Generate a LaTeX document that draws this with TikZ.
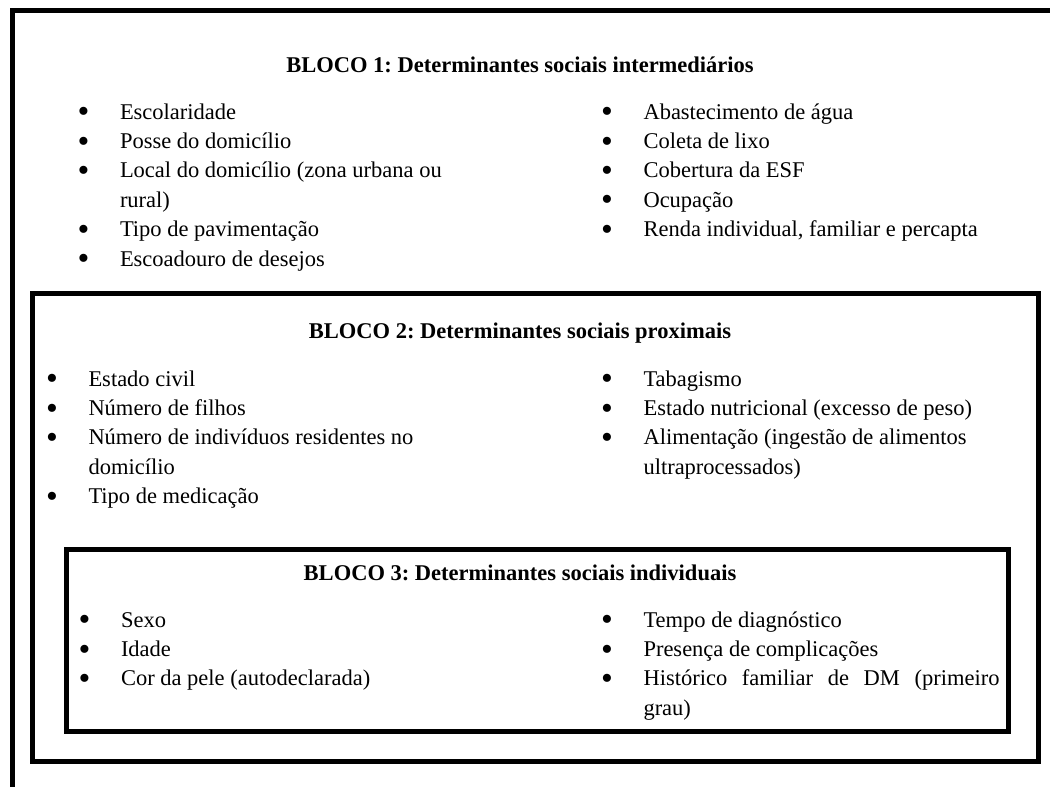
\documentclass[tikz,border=0pt]{standalone}
\usepackage{fontspec}
\usepackage{graphicx}
\setmainfont{Liberation Serif}
\frenchspacing
\newcommand{\bul}{\raisebox{-3.6pt}{\scalebox{1.5}{\textbullet}}}
\newcommand{\blist}[1]{\begin{tabular}[t]{@{}p{42.5pt}@{}l@{}}#1\end{tabular}}
\tikzset{every node/.style={inner sep=0pt, outer sep=0pt,
           font=\fontsize{22.5}{29.4}\selectfont},
         frame/.style={draw, line width=5pt}, % Sets the properties of each block border
         blocktitle/.style={anchor=base, font=\fontsize{22.5}{29.4}\selectfont\bfseries},
         itemlist/.style={anchor=base west, align=left}}

\begin{document}
\begin{tikzpicture}[x=1pt, y=-1pt]
  \useasboundingbox (0,0) rectangle (1050,787);

  % borders of the three blocks
  \draw [frame] (1055,10) -- (12,10) -- (12,792);
  \draw [frame] (32,293) rectangle (1038,761);
  \draw [frame] (66,549) rectangle (1008,731);

  % block 1
  \node [blocktitle] (t1) at (520,72) {BLOCO 1: Determinantes sociais intermediários};
  \node [itemlist] (b1l) at (77.5,119) {\blist{
    \bul & Escolaridade\\
    \bul & Posse do domicílio\\
    \bul & Local do domicílio (zona urbana ou\\
         & rural)\\
    \bul & Tipo de pavimentação\\
    \bul & Escoadouro de desejos}};
  \node [itemlist] (b1r) at (601,119) {\blist{
    \bul & Abastecimento de água\\
    \bul & Coleta de lixo\\
    \bul & Cobertura da ESF\\
    \bul & Ocupação\\
    \bul & Renda individual, familiar e percapta}};

  % block 2
  \node [blocktitle] (t2) at (520,338) {BLOCO 2: Determinantes sociais proximais};
  \node [itemlist] (b2l) at (46,386) {\blist{
    \bul & Estado civil\\
    \bul & Número de filhos\\
    \bul & Número de indivíduos residentes no\\
         & domicílio\\
    \bul & Tipo de medicação}};
  \node [itemlist] (b2r) at (601,386) {\blist{
    \bul & Tabagismo\\
    \bul & Estado nutricional (excesso de peso)\\
    \bul & Alimentação (ingestão de alimentos\\
         & ultraprocessados)}};

  % block 3
  \node [blocktitle] (t3) at (520,580) {BLOCO 3: Determinantes sociais individuais};
  \node [itemlist] (b3l) at (78.5,627) {\blist{
    \bul & Sexo\\
    \bul & Idade\\
    \bul & Cor da pele (autodeclarada)}};
  \node [itemlist] (b3r) at (601,627) {\blist{
    \bul & Tempo de diagnóstico\\
    \bul & Presença de complicações\\
    \bul & \makebox[356pt][s]{Histórico familiar de DM (primeiro}\\
         & grau)}};
\end{tikzpicture}
\end{document}
